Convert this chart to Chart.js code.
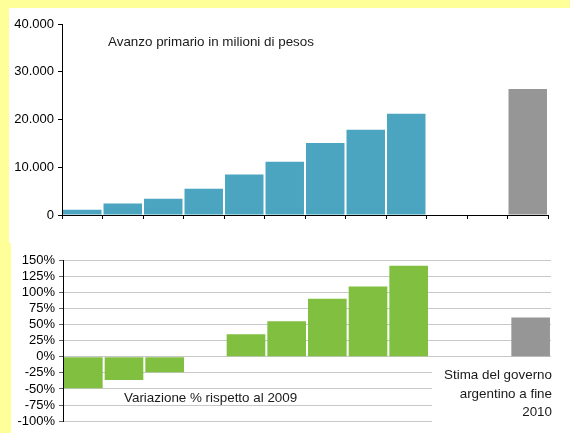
<!DOCTYPE html>
<html>
<head>
<meta charset="utf-8">
<script src="https://cdn.jsdelivr.net/npm/chart.js@4"></script>
<style>
    body { margin: 0; width: 570px; height: 433px; background: #ffff99; overflow: hidden; position: relative; }
    #sheet { position: absolute; left: 9px; top: 8px; right: 0; bottom: 0; background: #fff; }
    #stripe { position: absolute; left: 0; top: 243px; width: 11px; bottom: 0; background: #ffff99; }
    #topChart { position: absolute; left: 9px; top: 8px; }
    #bottomChart { position: absolute; left: 11px; top: 243px; }
</style>
</head>
<body>
<div id="sheet"></div>
<div id="stripe"></div>
<canvas id="topChart" width="561" height="224"></canvas>
<canvas id="bottomChart" width="559" height="190"></canvas>
<script>
/*=============== AVANZO PRIMARIO ARGENTINA 2010 ===============*/

// Months (axis labels are not shown in the original)
const months = ['Gen', 'Feb', 'Mar', 'Apr', 'Mag', 'Giu', 'Lug', 'Ago', 'Set', 'Ott', 'Nov', 'Dic'];

// Cumulative primary surplus, millions of pesos
const surplus = [1100, 2400, 3400, 5500, 8500, 11150, 15100, 17850, 21200, null, null, null];
const surplusEstimate = [null, null, null, null, null, null, null, null, null, null, null, 26400];

// % change vs 2009
const change = [-49, -36, -24, null, 35, 55, 90, 109, 141, null, null, null];
const changeEstimate = [null, null, null, null, null, null, null, null, null, null, null, 61];

// Tick values
const surplusTicks = [0, 10000, 20000, 30000, 40000];
const changeTicks = [-100, -75, -50, -25, 0, 25, 50, 75, 100, 125, 150];

const FONT = { family: 'Liberation Sans, Arial, sans-serif', size: 13 };
const NOTE_SIZE = 13.4;
const BLUE = '#4ba5c0';
const GREEN = '#80bf3f';
const GREY = '#969696';

const thousands = v => String(v).replace(/\B(?=(\d{3})+(?!\d))/g, '.');

// Free text drawn on the canvas
const notes = (items, cover) => ({
    id: 'notes',
    afterDraw(chart) {
        const ctx = chart.ctx;
        ctx.save();
        if (cover) {
            ctx.fillStyle = '#fff';
            ctx.fillRect(cover.x, cover.y, chart.width - cover.x, chart.height - cover.y);
        }
        ctx.font = `${NOTE_SIZE}px ${FONT.family}`;
        ctx.fillStyle = '#1a1a1a';
        ctx.textBaseline = 'middle';
        items.forEach(n => {
            ctx.textAlign = n.align || 'left';
            ctx.fillText(n.text, n.x, n.y);
        });
        ctx.restore();
    }
});

const barDefaults = { categoryPercentage: 1, barPercentage: 0.95, grouped: false };

document.addEventListener('DOMContentLoaded', () => {
    // Top: surplus
    new Chart(document.getElementById('topChart'), {
        type: 'bar',
        data: {
            labels: months,
            datasets: [
                { label: 'Avanzo primario', data: surplus, backgroundColor: BLUE, ...barDefaults },
                { label: 'Stima', data: surplusEstimate, backgroundColor: GREY, ...barDefaults }
            ]
        },
        options: {
            responsive: false,
            animation: false,
            layout: { padding: { top: 16, right: 22, bottom: 0, left: 0 } },
            plugins: { legend: { display: false }, tooltip: { enabled: false } },
            scales: {
                x: {
                    grid: { drawOnChartArea: false, color: '#000', tickLength: 4 },
                    border: { color: '#000' },
                    ticks: { display: false },
                    afterFit: s => { s.height = 17; }
                },
                y: {
                    min: 0,
                    max: 40000,
                    afterBuildTicks: s => { s.ticks = surplusTicks.map(v => ({ value: v })); },
                    ticks: { autoSkip: false, callback: v => thousands(v), color: '#000', font: FONT, padding: 4 },
                    grid: { drawOnChartArea: false, color: '#000', tickLength: 4 },
                    border: { color: '#000' },
                    afterFit: s => { s.width = 53; }
                }
            }
        },
        plugins: [notes([{ text: 'Avanzo primario in milioni di pesos', x: 99, y: 34 }])]
    });

    // Bottom: % change
    new Chart(document.getElementById('bottomChart'), {
        type: 'bar',
        data: {
            labels: months,
            datasets: [
                { label: 'Variazione', data: change, backgroundColor: GREEN, ...barDefaults },
                { label: 'Stima', data: changeEstimate, backgroundColor: GREY, ...barDefaults }
            ]
        },
        options: {
            responsive: false,
            animation: false,
            layout: { padding: { top: 17, right: 19, bottom: 10, left: 0 } },
            plugins: { legend: { display: false }, tooltip: { enabled: false } },
            scales: {
                x: { display: false },
                y: {
                    min: -100,
                    max: 150,
                    afterBuildTicks: s => { s.ticks = changeTicks.map(v => ({ value: v })); },
                    ticks: { autoSkip: false, callback: v => v + '%', color: '#000', font: FONT, padding: 4 },
                    grid: { color: '#c8c8c8', tickColor: '#666', tickLength: 4 },
                    border: { color: '#000' },
                    afterFit: s => { s.width = 52; }
                }
            }
        },
        plugins: [notes([
            { text: 'Variazione % rispetto al 2009', x: 113, y: 155 },
            { text: 'Stima del governo', x: 541, y: 132, align: 'right' },
            { text: 'argentino a fine', x: 541, y: 151, align: 'right' },
            { text: '2010', x: 541, y: 169, align: 'right' }
        ], { x: 421, y: 119 })]
    });
});
</script>
</body>
</html>
